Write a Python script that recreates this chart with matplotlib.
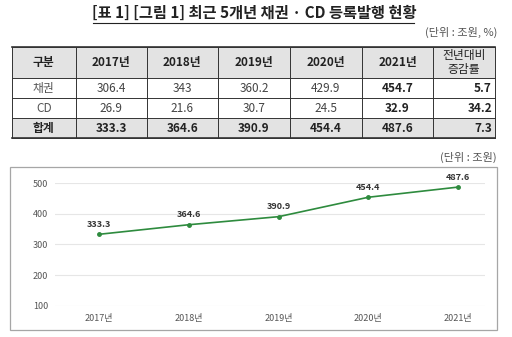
import matplotlib
matplotlib.use("Agg")
import matplotlib.pyplot as plt
from matplotlib.patches import Rectangle

plt.rcParams['font.family'] = ['Noto Sans CJK KR', 'DejaVu Sans']

# 데이터
years = ['2017년', '2018년', '2019년', '2020년', '2021년']
bond = ['306.4', '343', '360.2', '429.9', '454.7']
cd = ['26.9', '21.6', '30.7', '24.5', '32.9']
total_txt = ['333.3', '364.6', '390.9', '454.4', '487.6']
growth = ['5.7', '34.2', '7.3']
total = [333.3, 364.6, 390.9, 454.4, 487.6]

W, H = 512, 337
fig = plt.figure(figsize=(W / 100, H / 100), dpi=100)
bg = fig.add_axes([0, 0, 1, 1])
bg.set_xlim(0, W)
bg.set_ylim(H, 0)
bg.axis('off')

# 제목 (밑줄)
bg.text(254, 12.5, '[표 1] [그림 1] 최근 5개년 채권 · CD 등록발행 현황', ha='center', va='center',
        fontsize=11, fontweight='bold', color='#222222')
bg.plot([93, 414], [22.5, 22.5], color='#222222', lw=0.8)
bg.text(497, 32, '(단위 : 조원, %)', ha='right', va='center', fontsize=8, color='#555555')

# 표
col_x = [12, 75.7, 146.7, 218, 290, 361.7, 433.3, 495]
row_y = [46.7, 78.3, 98.3, 118.3, 138.3]
for y0, y1 in [(row_y[0], row_y[1]), (row_y[3], row_y[4])]:
    bg.add_patch(Rectangle((col_x[0], y0), col_x[-1] - col_x[0], y1 - y0,
                           facecolor='#e3e3e3', edgecolor='none'))
for x in col_x:
    bg.plot([x, x], [row_y[0], row_y[-1]], color='#333333', lw=0.7)
for y in row_y:
    bg.plot([col_x[0], col_x[-1]], [y, y], color='#333333', lw=0.7)
bg.plot([col_x[0], col_x[-1]], [row_y[0], row_y[0]], color='#333333', lw=1.2)
bg.plot([col_x[0], col_x[-1]], [row_y[-1], row_y[-1]], color='#333333', lw=1.2)

cx = [(col_x[i] + col_x[i + 1]) / 2 for i in range(len(col_x) - 1)]
ry = [(row_y[i] + row_y[i + 1]) / 2 for i in range(len(row_y) - 1)]
fs = 8.5
bg.text(cx[0], ry[0], '구분', ha='center', va='center', fontsize=fs, fontweight='bold', color='#222222')
for i, yr in enumerate(years):
    bg.text(cx[i + 1], ry[0], yr, ha='center', va='center', fontsize=fs, fontweight='bold', color='#222222')
bg.text(cx[6], ry[0] - 7, '전년대비', ha='center', va='center', fontsize=fs, color='#222222')
bg.text(cx[6], ry[0] + 7, '증감률', ha='center', va='center', fontsize=fs, color='#222222')

row_names = ['채권', 'CD', '합계']
rows = [bond, cd, total_txt]
for r, (name, vals) in enumerate(zip(row_names, rows)):
    y = ry[r + 1]
    last = r == 2
    bg.text(cx[0], y, name, ha='center', va='center', fontsize=fs,
            fontweight='bold' if last else 'normal', color='#222222' if last else '#555555')
    for i, v in enumerate(vals):
        bold = last or i == 4
        bg.text(cx[i + 1], y, v, ha='center', va='center', fontsize=fs,
                fontweight='bold' if bold else 'normal', color='#222222' if bold else '#444444')
    bg.text(col_x[-1] - 3, y, growth[r], ha='right', va='center', fontsize=fs,
            fontweight='bold', color='#222222')

# 그래프
bg.text(497, 157, '(단위 : 조원)', ha='right', va='center', fontsize=8, color='#555555')
bg.add_patch(Rectangle((10, 166.7), 487, 163.3, facecolor='white', edgecolor='#a6a6a6', lw=0.9))

ax = fig.add_axes([55 / W, (H - 305.7) / H, 430 / W, (305.7 - 183.3) / H])
x = list(range(len(years)))
ax.plot(x, total, color='#2e8b3e', lw=1.2, marker='o', markersize=2.5)
for xi, v in zip(x, total):
    ax.annotate(f'{v}', (xi, v), xytext=(0, 4), textcoords='offset points',
                ha='center', va='bottom', fontsize=6.5, fontweight='bold', color='#333333')
ax.set_xlim(-0.49, 4.3)
ax.set_ylim(100, 500)
ax.set_yticks([100, 200, 300, 400, 500])
ax.set_xticks(x)
ax.set_xticklabels(years)
ax.tick_params(axis='both', length=0, labelsize=6.5, colors='#555555')
ax.tick_params(axis='x', pad=6)
ax.tick_params(axis='y', pad=5)
ax.grid(axis='y', color='#e6e6e6', lw=0.8)
ax.set_axisbelow(True)
for s in ax.spines.values():
    s.set_visible(False)
ax.patch.set_alpha(0)

fig.savefig('out.png', dpi=100)
